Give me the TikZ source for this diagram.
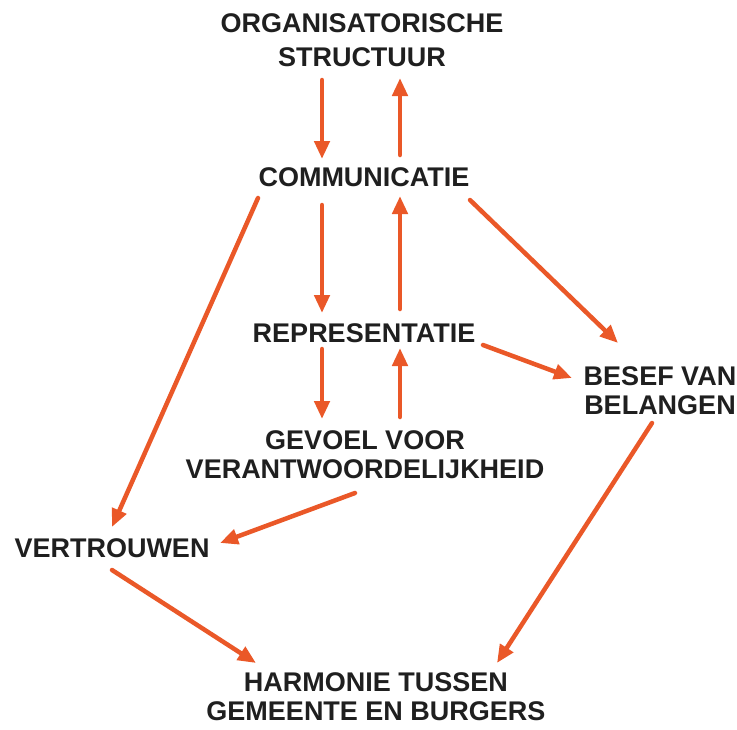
\documentclass[tikz,border=0pt]{standalone}
\usepackage{fontspec}
\setmainfont{Liberation Sans}
\usetikzlibrary{arrows.meta}
\definecolor{oranje}{RGB}{234,88,40}

\begin{document}
\begin{tikzpicture}[x=1pt, y=-1pt]
    \tikzstyle{every node} = [align=center, inner sep=0pt, text=black!88,
      font=\bfseries\fontsize{27}{29}\selectfont]
    \tikzstyle{pijl} = [line width=4.5pt, draw=oranje, line cap=round,
      -{Triangle[length=18pt, width=15pt, fill=oranje]}]
    \useasboundingbox (0, 0) rectangle (737, 729);

    \node (org)    at (362, 40)  [font=\bfseries\fontsize{27}{34}\selectfont]
                                 {ORGANISATORISCHE\\STRUCTUUR};
    \node (comm)   at (364, 177) {COMMUNICATIE};
    \node (rep)    at (364, 333) {REPRESENTATIE};
    \node (gev)    at (365, 455) {GEVOEL VOOR\\VERANTWOORDELIJKHEID};
    \node (besef)  at (660, 391) {BESEF VAN\\BELANGEN};
    \node (vert)   at (112, 548) {VERTROUWEN};
    \node (harm)   at (376, 697) {HARMONIE TUSSEN\\GEMEENTE EN BURGERS};

    % heen en terug langs de middenas
    \draw [pijl] ([shift={(-40, 40)}]org.center)  -- ([shift={(-42, -18)}]comm.center);
    \draw [pijl] ([shift={(36, -22)}]comm.center) -- ([shift={(38, 38)}]org.center);
    \draw [pijl] ([shift={(-42, 28)}]comm.center) -- ([shift={(-42, -20)}]rep.center);
    \draw [pijl] ([shift={(36, -24)}]rep.center)  -- ([shift={(36, 19)}]comm.center);
    \draw [pijl] ([shift={(-42, 16)}]rep.center)  -- ([shift={(-43, -36)}]gev.center);
    \draw [pijl] ([shift={(35, -38)}]gev.center)  -- ([shift={(36, 15)}]rep.center);

    % zijtakken
    \draw [pijl] ([shift={(106, 23)}]comm.center)  -- ([shift={(-42, -48)}]besef.center);
    \draw [pijl] ([shift={(119, 12)}]rep.center)   -- ([shift={(-88, -13)}]besef.center);
    \draw [pijl] ([shift={(-106, 21)}]comm.center) -- ([shift={(0, -21)}]vert.center);
    \draw [pijl] ([shift={(-10, 38)}]gev.center)   -- ([shift={(108, -5)}]vert.center);
    \draw [pijl] ([shift={(0, 22)}]vert.center)    -- ([shift={(-120, -34)}]harm.center);
    \draw [pijl] ([shift={(-8, 32)}]besef.center)  -- ([shift={(121, -34)}]harm.center);
\end{tikzpicture}
\end{document}
